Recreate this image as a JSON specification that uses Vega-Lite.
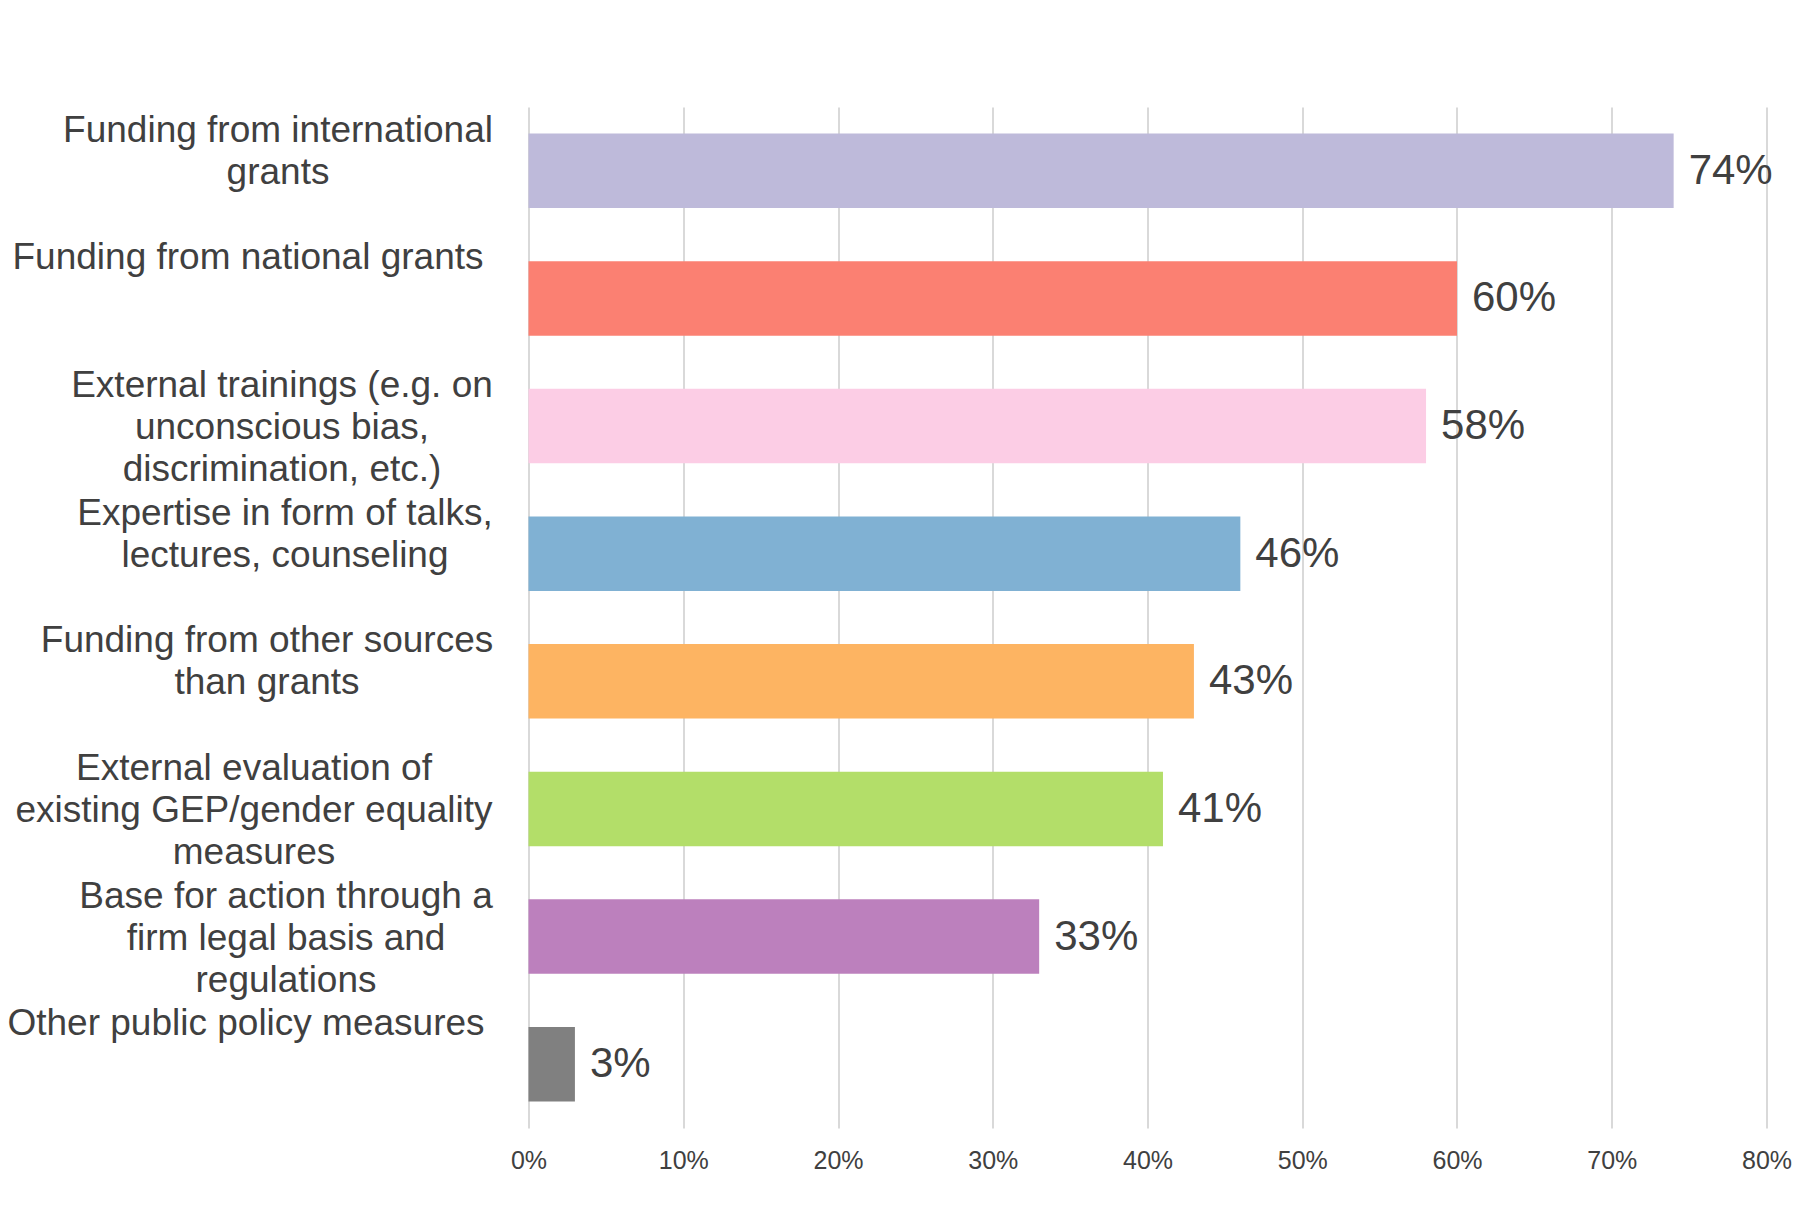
{
  "$schema": "https://vega.github.io/schema/vega-lite/v6.json",
  "autosize": {"type": "none"},
  "width": 1238,
  "height": 1021,
  "padding": {"left": 528.5, "top": 107, "right": 35.5, "bottom": 101},
  "background": "#ffffff",
  "config": {
    "view": {"stroke": null},
    "font": "Liberation Sans"
  },
  "data": {
    "values": [
      {"measure": "Funding from international\ngrants", "share": 0.74},
      {"measure": "Funding from national grants", "share": 0.60},
      {"measure": "External trainings (e.g. on\nunconscious bias,\ndiscrimination, etc.)", "share": 0.58},
      {"measure": "Expertise in form of talks,\nlectures, counseling", "share": 0.46},
      {"measure": "Funding from other sources\nthan grants", "share": 0.43},
      {"measure": "External evaluation of\nexisting GEP/gender equality\nmeasures", "share": 0.41},
      {"measure": "Base for action through a\nfirm legal basis and\nregulations", "share": 0.33},
      {"measure": "Other public policy measures", "share": 0.03}
    ]
  },
  "encoding": {
    "y": {
      "field": "measure",
      "type": "nominal",
      "sort": null,
      "scale": {"paddingInner": 0.416, "paddingOuter": 0.208},
      "axis": {
        "title": null,
        "domain": false,
        "ticks": false,
        "grid": false,
        "labelExpr": "split(datum.label, '\\n')",
        "labelAlign": "center",
        "labelBaseline": "top",
        "labelOffset": -58,
        "labelPadding": {
          "condition": [
            {"test": "indexof(datum.label, 'international') >= 0", "value": 251},
            {"test": "indexof(datum.label, 'national grants') >= 0", "value": 281},
            {"test": "indexof(datum.label, 'trainings') >= 0", "value": 247},
            {"test": "indexof(datum.label, 'Expertise') >= 0", "value": 244},
            {"test": "indexof(datum.label, 'other sources') >= 0", "value": 262},
            {"test": "indexof(datum.label, 'evaluation') >= 0", "value": 275},
            {"test": "indexof(datum.label, 'Base for action') >= 0", "value": 243},
            {"test": "indexof(datum.label, 'Other public') >= 0", "value": 283}
          ],
          "value": 261
        },
        "labelFontSize": 37,
        "labelLineHeight": 42,
        "labelColor": "#404040",
        "labelLimit": 0,
        "labelOverlap": false,
        "labelBound": false
      }
    },
    "x": {
      "field": "share",
      "type": "quantitative",
      "scale": {"domain": [0, 0.8], "nice": false},
      "axis": {
        "title": null,
        "domain": false,
        "ticks": false,
        "values": [0, 0.1, 0.2, 0.3, 0.4, 0.5, 0.6, 0.7, 0.8],
        "format": ".0%",
        "grid": true,
        "gridColor": "#d9d9d9",
        "gridWidth": 2,
        "labelFontSize": 25,
        "labelColor": "#404040",
        "labelPadding": 20,
        "labelBaseline": "top",
        "labelFlush": false,
        "labelOverlap": false
      }
    }
  },
  "layer": [
    {
      "mark": {"type": "bar"},
      "encoding": {
        "color": {
          "field": "measure",
          "type": "nominal",
          "sort": null,
          "legend": null,
          "scale": {
            "range": ["#bebada", "#fb8072", "#fccde5", "#80b1d3", "#fdb462", "#b3de69", "#bc80bd", "#808080"]
          }
        }
      }
    },
    {
      "mark": {"type": "text", "align": "left", "baseline": "middle", "dx": 15, "fontSize": 42, "color": "#404040"},
      "encoding": {
        "text": {"field": "share", "type": "quantitative", "format": ".0%"}
      }
    }
  ]
}
